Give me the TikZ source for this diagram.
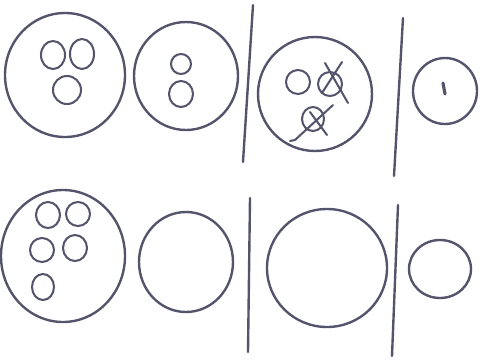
\documentclass[tikz,border=0pt]{standalone}
\usetikzlibrary{calc}

\definecolor{penc}{RGB}{84,84,108}

\begin{document}
\begin{tikzpicture}[x=0.05cm, y=-0.05cm, line cap=round, line join=round,
  pen/.style={draw=penc, line width=3.4pt},
  dot/.style={draw=penc, line width=2.9pt}]

\useasboundingbox (0,0) rectangle (480,359);

% ----------------------------
% DIVIDERS
% ----------------------------
\draw[pen] (253,5) -- (243,162);
\draw[pen] (403,18) -- (394,176);
\draw[pen] (250,198) -- (248,352);
\draw[pen] (398,205) -- (392,356);

% ----------------------------
% TOP ROW
% ----------------------------
% cell 1
\coordinate (A) at (65,75);
\draw[pen] (A) ellipse [x radius=60, y radius=62];
\draw[dot] (53,55) ellipse [x radius=12, y radius=14];
\draw[dot] (82,54) ellipse [x radius=12, y radius=15];
\draw[dot] (67,90) ellipse [x radius=14, y radius=14];

% cell 2
\coordinate (B) at (186,76);
\draw[pen] (B) ellipse [x radius=52, y radius=54];
\draw[dot] (181,64) ellipse [x radius=10, y radius=10];
\draw[dot] (181,94) ellipse [x radius=12, y radius=13];

% cell 3 (two crossed out)
\coordinate (C) at (315,94);
\draw[pen] (C) ellipse [x radius=57, y radius=57];
\draw[dot] (298,82) ellipse [x radius=12, y radius=12];
\draw[dot] (330,84) ellipse [x radius=12, y radius=12];
\draw[dot] (313,119) ellipse [x radius=11, y radius=12];
\draw[dot] (325,63) -- (348,103);
\draw[dot] (342,62) -- (322,93);
\draw[dot] (333,105) -- (295,140) -- (290,141);
\draw[dot] (310,112) -- (327,135);

% cell 4
\coordinate (D) at (445,91);
\draw[pen] (D) ellipse [x radius=32, y radius=33];
\draw[draw=penc, line width=4.5pt] (443,83) -- (445,94);

% ----------------------------
% BOTTOM ROW
% ----------------------------
% cell 5
\coordinate (E) at (63,256);
\draw[pen] (E) ellipse [x radius=62, y radius=66];
\draw[dot] (48,215) ellipse [x radius=12, y radius=13];
\draw[dot] (78,214) ellipse [x radius=12, y radius=12];
\draw[dot] (42,250) ellipse [x radius=12, y radius=12];
\draw[dot] (75,248) ellipse [x radius=12, y radius=13];
\draw[dot] (43,287) ellipse [x radius=11, y radius=13];

% cell 6
\coordinate (F) at (186,262);
\draw[pen] (F) ellipse [x radius=47, y radius=50];

% cell 7
\coordinate (G) at (327,268);
\draw[pen] (G) ellipse [x radius=60, y radius=59];

% cell 8
\coordinate (H) at (440,269);
\draw[pen] (H) ellipse [x radius=31, y radius=29];

\end{tikzpicture}
\end{document}
